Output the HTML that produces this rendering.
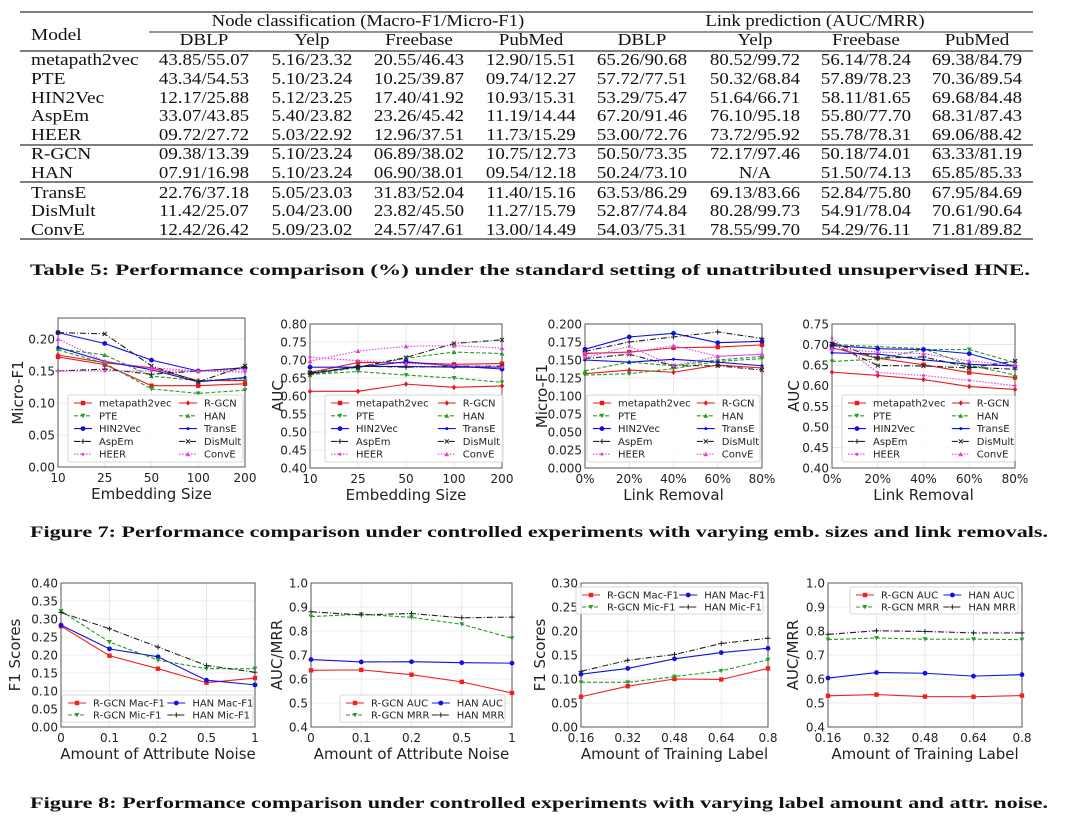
<!DOCTYPE html>
<html><head><meta charset="utf-8"><style>
body{margin:0;background:#fff;width:1065px;height:832px;overflow:hidden}
svg{display:block}
.tb{font-family:"Liberation Serif",serif;font-size:17px;fill:#111}
.cap{font-family:"Liberation Serif",serif;font-size:16px;font-weight:bold;fill:#111}
.tick{font-family:"DejaVu Sans","Liberation Sans",sans-serif;font-size:12px;fill:#222}
.axl{font-family:"DejaVu Sans","Liberation Sans",sans-serif;font-size:15px;fill:#222}
.lg{font-family:"DejaVu Sans","Liberation Sans",sans-serif;font-size:10px;fill:#222}
</style></head><body>
<svg id="root" width="1065" height="832" xmlns="http://www.w3.org/2000/svg">
<g id="table"></g>
<text class="cap" x="30" y="275" textLength="1000" lengthAdjust="spacingAndGlyphs">Table 5: Performance comparison (%) under the standard setting of unattributed unsupervised HNE.</text>
<text class="cap" x="30" y="537" textLength="1018" lengthAdjust="spacingAndGlyphs">Figure 7: Performance comparison under controlled experiments with varying emb. sizes and link removals.</text>
<text class="cap" x="30" y="808" textLength="1018" lengthAdjust="spacingAndGlyphs">Figure 8: Performance comparison under controlled experiments with varying label amount and attr. noise.</text>
<g id="charts"></g>
</svg>
<script>
const NS="http://www.w3.org/2000/svg";
function mk(tag,attrs,parent){const e=document.createElementNS(NS,tag);for(const k in attrs)e.setAttribute(k,attrs[k]);parent.appendChild(e);return e;}
function widen(t,f){const w=t.getComputedTextLength();t.setAttribute('textLength',(w*f).toFixed(1));t.setAttribute('lengthAdjust','spacingAndGlyphs');}

// ---------- TABLE ----------
const tableModels=["metapath2vec","PTE","HIN2Vec","AspEm","HEER","R-GCN","HAN","TransE","DisMult","ConvE"];
const tableCols=["DBLP","Yelp","Freebase","PubMed","DBLP","Yelp","Freebase","PubMed"];
const tableRows=[
["43.85/55.07","5.16/23.32","20.55/46.43","12.90/15.51","65.26/90.68","80.52/99.72","56.14/78.24","69.38/84.79"],
["43.34/54.53","5.10/23.24","10.25/39.87","09.74/12.27","57.72/77.51","50.32/68.84","57.89/78.23","70.36/89.54"],
["12.17/25.88","5.12/23.25","17.40/41.92","10.93/15.31","53.29/75.47","51.64/66.71","58.11/81.65","69.68/84.48"],
["33.07/43.85","5.40/23.82","23.26/45.42","11.19/14.44","67.20/91.46","76.10/95.18","55.80/77.70","68.31/87.43"],
["09.72/27.72","5.03/22.92","12.96/37.51","11.73/15.29","53.00/72.76","73.72/95.92","55.78/78.31","69.06/88.42"],
["09.38/13.39","5.10/23.24","06.89/38.02","10.75/12.73","50.50/73.35","72.17/97.46","50.18/74.01","63.33/81.19"],
["07.91/16.98","5.10/23.24","06.90/38.01","09.54/12.18","50.24/73.10","N/A","51.50/74.13","65.85/85.33"],
["22.76/37.18","5.05/23.03","31.83/52.04","11.40/15.16","63.53/86.29","69.13/83.66","52.84/75.80","67.95/84.69"],
["11.42/25.07","5.04/23.00","23.82/45.50","11.27/15.79","52.87/74.84","80.28/99.73","54.91/78.04","70.61/90.64"],
["12.42/26.42","5.09/23.02","24.57/47.61","13.00/14.49","54.03/75.31","78.55/99.70","54.29/76.11","71.81/89.82"]];
(function(){
 const g=document.getElementById('table');
 const colX=[204,312,419,531,642,755,866,977];
 const rowY=[59,78,97,115,134,153,172,192,210,229];
 [12,51,145,182,239].forEach(y=>{
  const l=mk('line',{x1:20,x2:1033,y1:y,y2:y,stroke:'#333','stroke-width':1.3},g);
  
  
 });
 const sl=mk('line',{x1:149,x2:1033,y1:32,y2:32,stroke:'#555','stroke-width':1.3},g);
 
 
 const t0=mk('text',{class:'tb',x:31,y:40},g);t0.textContent="Model";widen(t0,1.14);
 
 
 const t1=mk('text',{class:'tb',x:368,y:26,'text-anchor':'middle'},g);t1.textContent="Node classification (Macro-F1/Micro-F1)";widen(t1,1.1);
 
 
 const t2=mk('text',{class:'tb',x:815,y:26,'text-anchor':'middle'},g);t2.textContent="Link prediction (AUC/MRR)";widen(t2,1.1);
 
 
 tableCols.forEach((c,i)=>{const t=mk('text',{class:'tb',x:colX[i],y:45,'text-anchor':'middle'},g);t.textContent=c;widen(t,1.12);
  
  });
 tableModels.forEach((m,r)=>{
  const t=mk('text',{class:'tb',x:31,y:rowY[r]+6},g);t.textContent=m;widen(t,1.14);
  
  
  tableRows[r].forEach((v,i)=>{const c=mk('text',{class:'tb',x:colX[i],y:rowY[r]+6,'text-anchor':'middle'},g);c.textContent=v;widen(c,1.11);
   
   });
 });
})();

// ---------- CHART DATA ----------
const hneNames=["metapath2vec","R-GCN","PTE","HAN","HIN2Vec","TransE","AspEm","DisMult","HEER","ConvE"];
const embSizes=["10","25","50","100","200"];
const linkRemoval=["0%","20%","40%","60%","80%"];
const noiseLevels=["0","0.1","0.2","0.5","1"];
const labelAmounts=["0.16","0.32","0.48","0.64","0.8"];
const embMicroF1=[
[0.172,0.160,0.127,0.127,0.130],[0.175,0.163,0.155,0.135,0.135],[0.183,0.162,0.122,0.115,0.120],[0.185,0.175,0.142,0.135,0.138],
[0.210,0.193,0.167,0.150,0.155],[0.187,0.165,0.152,0.133,0.140],[0.150,0.153,0.145,0.150,0.155],[0.210,0.208,0.158,0.133,0.158],
[0.150,0.150,0.150,0.150,0.148],[0.200,0.165,0.155,0.150,0.152]];
const embAUC=[
[0.665,0.693,0.693,0.688,0.690],[0.613,0.613,0.633,0.624,0.628],[0.660,0.668,0.658,0.650,0.638],[0.658,0.680,0.705,0.722,0.718],
[0.680,0.680,0.695,0.683,0.675],[0.662,0.682,0.682,0.680,0.680],[0.662,0.683,0.680,0.683,0.683],[0.665,0.680,0.707,0.746,0.756],
[0.708,0.698,0.690,0.685,0.680],[0.697,0.725,0.738,0.740,0.733]];
const linkMicroF1=[
[0.159,0.161,0.167,0.168,0.171],[0.131,0.136,0.133,0.143,0.139],[0.129,0.131,0.138,0.148,0.152],[0.135,0.147,0.142,0.150,0.155],
[0.165,0.182,0.187,0.174,0.176],[0.150,0.147,0.151,0.147,0.142],[0.162,0.175,0.182,0.189,0.180],[0.152,0.158,0.142,0.142,0.136],
[0.153,0.169,0.142,0.155,0.158],[0.160,0.160,0.170,0.155,0.158]];
const linkAUC=[
[0.692,0.667,0.651,0.632,0.620],[0.633,0.625,0.615,0.598,0.591],[0.659,0.665,0.688,0.688,0.656],[0.700,0.695,0.690,0.650,0.626],
[0.698,0.690,0.688,0.678,0.647],[0.680,0.677,0.663,0.652,0.648],[0.705,0.667,0.670,0.645,0.640],[0.702,0.649,0.648,0.643,0.660],
[0.715,0.632,0.625,0.613,0.600],[0.690,0.682,0.678,0.660,0.650]];
const f1Names=["R-GCN Mac-F1","HAN Mac-F1","R-GCN Mic-F1","HAN Mic-F1"];
const lpNames=["R-GCN AUC","HAN AUC","R-GCN MRR","HAN MRR"];
const noiseF1=[[0.280,0.198,0.162,0.123,0.136],[0.283,0.217,0.195,0.130,0.117],[0.322,0.236,0.186,0.162,0.162],[0.318,0.273,0.222,0.171,0.152]];
const noiseLP=[[0.636,0.638,0.618,0.588,0.542],[0.681,0.671,0.672,0.668,0.666],[0.860,0.870,0.857,0.828,0.770],[0.880,0.867,0.873,0.855,0.858]];
const labelF1=[[0.063,0.085,0.100,0.099,0.122],[0.110,0.122,0.142,0.155,0.164],[0.093,0.093,0.105,0.117,0.140],[0.116,0.139,0.151,0.174,0.185]];
const labelLP=[[0.530,0.535,0.527,0.526,0.531],[0.604,0.627,0.624,0.612,0.618],[0.764,0.771,0.766,0.766,0.764],[0.786,0.801,0.798,0.792,0.792]];

const hneStyle=[
{c:'#e41a1c',d:'',m:'s'},{c:'#e41a1c',d:'',m:'d'},{c:'#2a9a2a',d:'4,2',m:'v'},{c:'#2a9a2a',d:'4,2',m:'^'},
{c:'#1010e0',d:'',m:'o'},{c:'#1010e0',d:'',m:'.'},{c:'#222',d:'6,2,1,2',m:'+'},{c:'#222',d:'6,2,1,2',m:'x'},
{c:'#e040e0',d:'1.5,1.5',m:'.'},{c:'#e040e0',d:'1.5,1.5',m:'^'}];
const fourStyle=[{c:'#f02020',d:'',m:'s'},{c:'#1010e0',d:'',m:'o'},{c:'#2a9a2a',d:'4,2',m:'v'},{c:'#222',d:'6,2,1,2',m:'+'}];

function marker(g,m,x,y,c){
 let e;
 if(m==='s')e=mk('rect',{x:x-2.2,y:y-2.2,width:4.4,height:4.4,fill:c},g);
 else if(m==='o')e=mk('circle',{cx:x,cy:y,r:2.4,fill:c},g);
 else if(m==='d')e=mk('path',{d:`M${x},${y-2.8}L${x+2.2},${y}L${x},${y+2.8}L${x-2.2},${y}Z`,fill:c},g);
 else if(m==='v')e=mk('path',{d:`M${x-2.4},${y-2}L${x+2.4},${y-2}L${x},${y+2.4}Z`,fill:c},g);
 else if(m==='^')e=mk('path',{d:`M${x-2.4},${y+2}L${x+2.4},${y+2}L${x},${y-2.4}Z`,fill:c},g);
 else if(m==='+')e=mk('path',{d:`M${x-2.5},${y}H${x+2.5}M${x},${y-2.5}V${y+2.5}`,stroke:c,'stroke-width':1},g);
 else if(m==='x')e=mk('path',{d:`M${x-2},${y-2}L${x+2},${y+2}M${x+2},${y-2}L${x-2},${y+2}`,stroke:c,'stroke-width':1},g);
 else e=mk('circle',{cx:x,cy:y,r:1.5,fill:c},g);
 
 
}

function chart(o){
 const root=document.getElementById('charts');
 const g=mk('g',{},root);
 
 
 const {x0,x1,yT,yB,ymin,ymax}=o;
 const xs=i=>x0+(x1-x0)*i/(o.cats.length-1);
 const ys=v=>yB-(v-ymin)/(ymax-ymin)*(yB-yT);
 const plotTop=o.top!==undefined?o.top:ys(ymax);
 for(let v=ymin;v<=o.tickMax+1e-9;v+=o.step){
  const y=ys(v);
  const gl=mk('line',{x1:x0,x2:x1,y1:y,y2:y,stroke:'#e4e4e4','stroke-width':0.8},g);
  
  
  const t=mk('text',{class:'tick',x:x0-3,y:y+4.5,'text-anchor':'end'},g);t.textContent=v.toFixed(o.dec);
  
  
 }
 o.cats.forEach((c,i)=>{
  const x=xs(i);
  const gl=mk('line',{x1:x,x2:x,y1:plotTop,y2:yB,stroke:'#e4e4e4','stroke-width':0.8},g);
  
  
  const t=mk('text',{class:'tick',x:x,y:yB+15,'text-anchor':'middle'},g);t.textContent=c;
  
  
 });
 const fr=mk('rect',{x:x0,y:plotTop,width:x1-x0,height:yB-plotTop,fill:'none',stroke:'#555','stroke-width':1},g);
 
 
 o.series.forEach((vals,k)=>{
  const st=o.styles[k];
  const p=mk('polyline',{points:vals.map((v,i)=>xs(i)+','+ys(v)).join(' '),fill:'none',stroke:st.c,'stroke-width':1.1,'stroke-dasharray':st.d},g);
  
  
  vals.forEach((v,i)=>marker(g,st.m,xs(i),ys(v),st.c));
 });
 const L=o.legend;
 const lb=mk('rect',{x:L.x,y:L.y,width:L.w,height:L.h,fill:'#fff','fill-opacity':0.85,stroke:'#ccc','stroke-width':0.8,rx:2},g);
 
 
 o.names.forEach((n,k)=>{
  const col=k%2,row=Math.floor(k/2);
  const lx=L.x+6+col*L.colW, ly=L.y+L.pad+row*L.rowH;
  const st=o.styles[k];
  const ln=mk('line',{x1:lx,x2:lx+18,y1:ly,y2:ly,stroke:st.c,'stroke-width':1.1,'stroke-dasharray':st.d},g);
  
  
  marker(g,st.m,lx+9,ly,st.c);
  const t=mk('text',{class:'lg',x:lx+25,y:ly+3.5},g);t.textContent=n;
  
  
 });
 const xl=mk('text',{class:'axl',x:(x0+x1)/2,y:yB+32,'text-anchor':'middle'},g);xl.textContent=o.xlabel;
 
 
 const yc=(plotTop+yB)/2;
 const yl=mk('text',{class:'axl',x:o.ylx,y:yc,'text-anchor':'middle',transform:`rotate(-90 ${o.ylx} ${yc})`},g);yl.textContent=o.ylabel;
 
 
}

const topLeg=(x,w)=>({x:x,y:395,w:w,h:67,pad:8,rowH:12.8,colW:w*0.6});
chart({name:'chart-emb-microf1',cats:embSizes,series:embMicroF1,names:hneNames,styles:hneStyle,x0:58,x1:245,yT:339,yB:467,ymin:0,ymax:0.20,top:318,tickMax:0.20,step:0.05,dec:2,xlabel:'Embedding Size',ylabel:'Micro-F1',ylx:23,legend:topLeg(68,175)});
chart({name:'chart-emb-auc',cats:embSizes,series:embAUC,names:hneNames,styles:hneStyle,x0:310,x1:502,yT:324,yB:468,ymin:0.40,ymax:0.80,tickMax:0.80,step:0.05,dec:2,xlabel:'Embedding Size',ylabel:'AUC',ylx:283,legend:topLeg(325,178)});
chart({name:'chart-link-microf1',cats:linkRemoval,series:linkMicroF1,names:hneNames,styles:hneStyle,x0:585,x1:762,yT:324,yB:468,ymin:0,ymax:0.20,tickMax:0.20,step:0.025,dec:3,xlabel:'Link Removal',ylabel:'Micro-F1',ylx:547,legend:topLeg(587,173)});
chart({name:'chart-link-auc',cats:linkRemoval,series:linkAUC,names:hneNames,styles:hneStyle,x0:832,x1:1015,yT:324,yB:468,ymin:0.40,ymax:0.75,tickMax:0.75,step:0.05,dec:2,xlabel:'Link Removal',ylabel:'AUC',ylx:799,legend:topLeg(842,173)});
const botLeg=(x,y,w)=>({x:x,y:y,w:w,h:27,pad:8,rowH:12,colW:w*0.52});
chart({name:'chart-noise-f1',cats:noiseLevels,series:noiseF1,names:f1Names,styles:fourStyle,x0:61,x1:255,yT:583,yB:727,ymin:0,ymax:0.40,tickMax:0.40,step:0.05,dec:2,xlabel:'Amount of Attribute Noise',ylabel:'F1 Scores',ylx:20,legend:botLeg(62,695,191)});
chart({name:'chart-noise-auc-mrr',cats:noiseLevels,series:noiseLP,names:lpNames,styles:fourStyle,x0:311,x1:512,yT:583,yB:727,ymin:0.4,ymax:1.0,tickMax:1.0,step:0.1,dec:1,xlabel:'Amount of Attribute Noise',ylabel:'AUC/MRR',ylx:282,legend:botLeg(340,695,165)});
chart({name:'chart-label-f1',cats:labelAmounts,series:labelF1,names:f1Names,styles:fourStyle,x0:581,x1:768,yT:583,yB:727,ymin:0,ymax:0.30,tickMax:0.30,step:0.05,dec:2,xlabel:'Amount of Training Label',ylabel:'F1 Scores',ylx:545,legend:botLeg(576,587,187)});
chart({name:'chart-label-auc-mrr',cats:labelAmounts,series:labelLP,names:lpNames,styles:fourStyle,x0:828,x1:1022,yT:583,yB:727,ymin:0.4,ymax:1.0,tickMax:1.0,step:0.1,dec:1,xlabel:'Amount of Training Label',ylabel:'AUC/MRR',ylx:798,legend:botLeg(850,587,168)});
</script>
</body></html>
